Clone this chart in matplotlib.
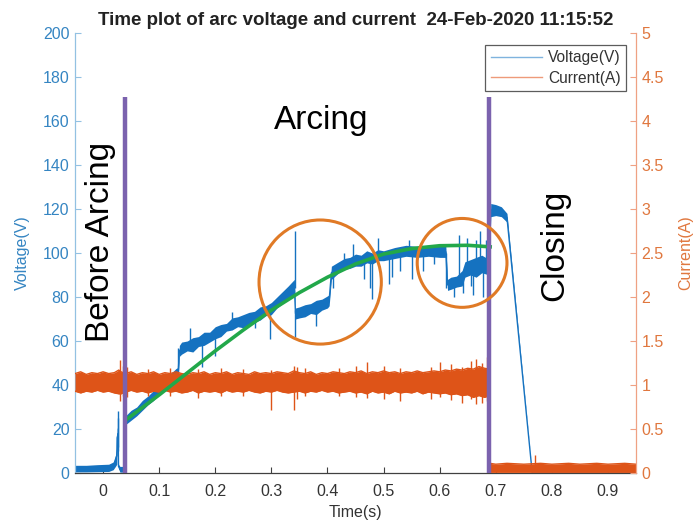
import matplotlib
matplotlib.use("Agg")
import matplotlib.pyplot as plt
from matplotlib.patches import Ellipse
from matplotlib.lines import Line2D

plt.rcParams['font.family'] = ['Liberation Sans', 'DejaVu Sans']

# ---------------- data ----------------
# Voltage noisy band: time, lower and upper envelope (V)
t_v = [-0.05, -0.03, -0.01, 0.01, 0.018, 0.022, 0.0245, 0.025, 0.027, 0.0275, 0.03, 0.038, 0.0395,
       0.04, 0.05, 0.06, 0.07, 0.08, 0.09, 0.10, 0.11, 0.12, 0.13, 0.134, 0.136,
       0.14, 0.15, 0.16, 0.17, 0.18, 0.19, 0.20, 0.21, 0.22, 0.23, 0.24, 0.25, 0.26,
       0.27, 0.28, 0.29, 0.30, 0.31, 0.32, 0.33, 0.341, 0.343, 0.35, 0.36, 0.37, 0.38,
       0.39, 0.40, 0.403, 0.407, 0.42, 0.43, 0.44, 0.45, 0.46, 0.47, 0.48, 0.49, 0.50,
       0.52, 0.54, 0.56, 0.58, 0.60, 0.611, 0.614, 0.62, 0.63, 0.64, 0.645,
       0.655, 0.665, 0.675, 0.6885, 0.691, 0.70, 0.71, 0.72, 0.765, 0.95]
v_lo = [0.5, 0.5, 0.6, 0.7, 1.5, 3.0, 4.0, 12.0, 14.0, 2.0, 0.4, 0.4, 0.4,
        22.0, 24.0, 26.0, 28.5, 31.0, 33.0, 36.0, 38.0, 40.5, 43.0, 44.0, 53.0,
        54.0, 55.5, 55.0, 57.5, 58.0, 59.5, 61.0, 62.0, 64.5, 65.0, 66.5, 66.0, 67.5,
        68.5, 69.5, 71.5, 72.0, 75.0, 77.0, 79.5, 81.0, 70.0, 70.5, 71.0, 72.5, 72.0,
        74.0, 75.0, 76.0, 88.0, 91.0, 92.5, 93.0, 94.0, 94.0, 95.5, 95.0, 96.5, 96.5,
        97.5, 98.5, 98.0, 98.5, 98.0, 98.0, 83.0, 83.5, 84.5, 85.0, 89.0,
        90.0, 89.0, 91.0, 90.0, 116.5, 117.0, 116.5, 114.0, 0.0, 0.0]
v_hi = [3.5, 3.5, 3.8, 4.0, 5.0, 8.0, 12.0, 20.0, 22.0, 4.0, 3.0, 3.0, 3.0,
        26.0, 28.5, 30.0, 33.0, 35.0, 37.5, 40.0, 42.5, 45.0, 47.5, 48.0, 58.0,
        59.5, 60.0, 61.5, 62.0, 64.0, 64.0, 66.5, 67.5, 68.0, 70.5, 71.0, 72.0, 73.0,
        73.5, 75.5, 76.0, 77.5, 80.0, 82.5, 85.0, 88.0, 75.0, 75.5, 76.5, 77.0, 78.5,
        79.0, 80.5, 81.0, 94.0, 96.0, 97.5, 98.0, 99.5, 99.0, 101.0, 100.0, 101.5, 101.0,
        102.5, 103.5, 103.0, 103.5, 103.0, 103.0, 88.0, 89.0, 89.5, 92.0, 96.0,
        97.0, 98.0, 99.0, 97.0, 122.5, 122.0, 121.0, 118.0, 0.0, 0.0]
# Voltage spikes: time, start and end value (V)
spike_t = [0.026, 0.0265, 0.134, 0.155, 0.176, 0.20, 0.23, 0.27, 0.298, 0.3415, 0.342, 0.38,
           0.41, 0.43, 0.445, 0.465, 0.475, 0.48, 0.49, 0.51, 0.515, 0.53, 0.545, 0.55, 0.57,
           0.59, 0.612, 0.625, 0.635, 0.642, 0.648, 0.655, 0.66, 0.665, 0.672, 0.678, 0.683,
           0.686]
spike_a = [10, 12, 46, 59, 61, 63, 68, 72, 74, 84, 74, 75,
           92, 95, 96, 98, 98, 99, 100, 100, 101, 101, 101, 101, 101,
           101, 100, 87, 87, 90, 92, 94, 95, 95, 95, 95, 95,
           94]
spike_b = [28, 25, 57, 66, 48, 53, 73, 66, 61, 110, 62, 67,
           84, 100, 104, 88, 84, 79, 107, 86, 89, 92, 106, 88, 92,
           95, 84, 80, 108, 82, 107, 85, 81, 106, 110, 80, 106,
           85]

# Current noisy band: time, lower and upper envelope (A)
t_i = [-0.05, -0.04, -0.03, -0.02, -0.01, 0.0, 0.01, 0.02, 0.028, 0.032, 0.04, 0.05, 0.06,
       0.07, 0.08, 0.09, 0.10, 0.11, 0.12, 0.13, 0.14, 0.15, 0.16, 0.17, 0.18, 0.19,
       0.20, 0.21, 0.22, 0.23, 0.24, 0.25, 0.26, 0.27, 0.28, 0.29, 0.30, 0.31, 0.32,
       0.33, 0.34, 0.35, 0.36, 0.37, 0.38, 0.39, 0.40, 0.41, 0.42, 0.43, 0.44, 0.45,
       0.46, 0.47, 0.48, 0.49, 0.50, 0.51, 0.52, 0.53, 0.54, 0.55, 0.56, 0.57, 0.58,
       0.59, 0.60, 0.61, 0.62, 0.63, 0.64, 0.65, 0.66, 0.67, 0.68, 0.689,
       0.6895, 0.70, 0.72, 0.75, 0.78, 0.80, 0.83, 0.85, 0.88, 0.90, 0.93, 0.95]
i_lo = [0.93, 0.91, 0.93, 0.92, 0.94, 0.92, 0.93, 0.91, 0.90, 0.90, 0.92, 0.94, 0.92,
        0.93, 0.91, 0.93, 0.92, 0.94, 0.92, 0.93, 0.91, 0.92, 0.94, 0.91, 0.93, 0.92,
        0.93, 0.91, 0.94, 0.92, 0.93, 0.92, 0.94, 0.92, 0.91, 0.93, 0.92, 0.94, 0.92,
        0.91, 0.92, 0.93, 0.91, 0.93, 0.92, 0.94, 0.92, 0.93, 0.91, 0.92, 0.93, 0.91,
        0.92, 0.90, 0.93, 0.91, 0.92, 0.90, 0.93, 0.91, 0.92, 0.91, 0.93, 0.90, 0.92,
        0.91, 0.90, 0.91, 0.89, 0.90, 0.88, 0.89, 0.86, 0.88, 0.86, 0.88,
        0.01, 0.01, 0.01, 0.01, 0.01, 0.01, 0.01, 0.01, 0.01, 0.01, 0.01, 0.01]
i_hi = [1.13, 1.15, 1.12, 1.14, 1.13, 1.15, 1.13, 1.14, 1.17, 1.15, 1.13, 1.15, 1.12,
        1.14, 1.13, 1.15, 1.12, 1.14, 1.13, 1.15, 1.13, 1.12, 1.14, 1.13, 1.15, 1.12,
        1.14, 1.13, 1.15, 1.12, 1.14, 1.13, 1.12, 1.15, 1.13, 1.14, 1.13, 1.15, 1.14,
        1.13, 1.16, 1.14, 1.13, 1.15, 1.12, 1.14, 1.13, 1.15, 1.14, 1.13, 1.15, 1.14,
        1.16, 1.13, 1.15, 1.14, 1.16, 1.14, 1.15, 1.13, 1.15, 1.14, 1.16, 1.14, 1.15,
        1.16, 1.15, 1.17, 1.16, 1.18, 1.17, 1.19, 1.18, 1.21, 1.19, 1.18,
        0.11, 0.10, 0.11, 0.10, 0.11, 0.10, 0.11, 0.10, 0.11, 0.10, 0.11, 0.10]
# Current spikes: time, low and high value (A)
ispike_t = [0.03, 0.035, 0.043, 0.08, 0.12, 0.17, 0.21, 0.25, 0.30, 0.34, 0.345, 0.36,
            0.42, 0.45, 0.47, 0.50, 0.53, 0.585, 0.60, 0.62, 0.64, 0.655, 0.665, 0.675,
            0.684, 0.77]
ispike_lo = [0.82, 0.88, 0.86, 0.88, 0.87, 0.85, 0.88, 0.88, 0.72, 0.72, 0.84, 0.87,
             0.87, 0.86, 0.85, 0.84, 0.82, 0.84, 0.86, 0.83, 0.80, 0.84, 0.78, 0.80,
             0.82, 0.05]
ispike_hi = [1.28, 1.22, 1.20, 1.18, 1.19, 1.18, 1.19, 1.18, 1.17, 1.22, 1.20, 1.19,
             1.19, 1.22, 1.26, 1.22, 1.19, 1.20, 1.26, 1.24, 1.21, 1.27, 1.30, 1.25,
             1.32, 0.21]

# Polynomial fit (green) over the arcing interval
fit_t = [0.04, 0.10, 0.15, 0.20, 0.25, 0.30, 0.35, 0.40, 0.45, 0.50, 0.55, 0.60, 0.65, 0.69]
fit_v = [24.0, 35.5, 45.5, 55.5, 65.0, 74.0, 82.0, 89.0, 95.0, 99.5, 102.0, 103.3, 103.5, 102.8]

# Annotations
phase_lines_t = [0.039, 0.688]
phase_line_top = 171
circle_centers = [(0.387, 86.8), (0.640, 95.5)]
circle_radii = [(0.109, 28.2), (0.080, 20.2)]

xticks = [0, 0.1, 0.2, 0.3, 0.4, 0.5, 0.6, 0.7, 0.8, 0.9]
xticklabels = ['0', '0.1', '0.2', '0.3', '0.4', '0.5', '0.6', '0.7', '0.8', '0.9']
vticks = [0, 20, 40, 60, 80, 100, 120, 140, 160, 180, 200]
iticks = [0, 0.5, 1, 1.5, 2, 2.5, 3, 3.5, 4, 4.5, 5]
iticklabels = ['0', '0.5', '1', '1.5', '2', '2.5', '3', '3.5', '4', '4.5', '5']

# ---------------- styling ----------------
c_volt = '#1572C0'
c_curr = '#DE5418'
c_vtext = '#3585C2'
c_itext = '#E0773E'
c_vspine = '#93C1E2'
c_ispine = '#EFA183'
c_fit = '#22A84A'
c_purple = '#7B62AE'
c_circle = '#E07A26'

fig = plt.figure(figsize=(6.96, 5.31), dpi=100)
ax = fig.add_axes([0.1078, 0.1092, 0.806, 0.8287])
ax2 = ax.twinx()

# voltage
ax.fill_between(t_v, v_lo, v_hi, color=c_volt, lw=0, zorder=2)
ax.plot(t_v, [(a + b) / 2 for a, b in zip(v_lo, v_hi)], color=c_volt, lw=1.0, zorder=2)
ax.vlines(spike_t, spike_a, spike_b, color=c_volt, lw=1.0, zorder=2)

# current
ax2.fill_between(t_i, i_lo, i_hi, color=c_curr, lw=0, zorder=2)
ax2.plot(t_i, i_hi, color=c_curr, lw=1.0, zorder=2)
ax2.plot(t_i, i_lo, color=c_curr, lw=1.0, zorder=2)
ax2.vlines(ispike_t, ispike_lo, ispike_hi, color=c_curr, lw=1.0, zorder=2)

# overlays (drawn on top, in voltage coordinates)
ax2.plot(fit_t, fit_v, color=c_fit, lw=2.6, transform=ax.transData, zorder=5)
for tp in phase_lines_t:
    ax2.plot([tp, tp], [0, phase_line_top], color=c_purple, lw=3.2,
             transform=ax.transData, zorder=6, solid_capstyle='butt')
for (cx, cy), (rx, ry) in zip(circle_centers, circle_radii):
    ax2.add_patch(Ellipse((cx, cy), 2 * rx, 2 * ry, transform=ax.transData,
                          fill=False, edgecolor=c_circle, lw=2.2, zorder=6))

ax2.text(-0.004, 105, 'Before Arcing', transform=ax.transData, rotation=90,
         ha='center', va='center', fontsize=24, color='black', zorder=7)
ax2.text(0.388, 160, 'Arcing', transform=ax.transData,
         ha='center', va='center', fontsize=24, color='black', zorder=7)
ax2.text(0.805, 103.5, 'Closing', transform=ax.transData, rotation=90,
         ha='center', va='center', fontsize=24, color='black', zorder=7)

# axes limits / ticks
ax.set_xlim(-0.05, 0.95)
ax.set_ylim(0, 200)
ax2.set_ylim(0, 5)
ax.set_xticks(xticks)
ax.set_xticklabels(xticklabels)
ax.set_yticks(vticks)
ax2.set_yticks(iticks)
ax2.set_yticklabels(iticklabels)

for s in ['top', 'right']:
    ax.spines[s].set_visible(False)
for s in ['top', 'left', 'bottom']:
    ax2.spines[s].set_visible(False)
ax.spines['left'].set_color(c_vspine)
ax.spines['bottom'].set_color('#404040')
ax2.spines['right'].set_color(c_ispine)
for sp in [ax.spines['left'], ax.spines['bottom'], ax2.spines['right']]:
    sp.set_linewidth(0.9)

ax.tick_params(axis='x', direction='in', length=4, color='#404040', labelcolor='#333333',
               labelsize=11.5, pad=8)
ax.tick_params(axis='y', direction='in', length=4, color=c_vspine, labelcolor=c_vtext,
               labelsize=11.5, pad=4)
ax2.tick_params(axis='y', direction='in', length=4, color=c_ispine, labelcolor=c_itext,
                labelsize=11.5, pad=4)

ax.set_xlabel('Time(s)', fontsize=11.5, color='#333333', labelpad=4)
ax.set_ylabel('Voltage(V)', fontsize=11.5, color=c_vtext, labelpad=9)
ax2.set_ylabel('Current(A)', fontsize=11.5, color=c_itext, labelpad=10, rotation=90)

ax.set_title('Time plot of arc voltage and current  24-Feb-2020 11:15:52',
             fontsize=13.5, fontweight='bold', color='#222222', pad=6)

# legend
handles = [Line2D([], [], color='#7FB3DE', lw=1.0), Line2D([], [], color='#EE9A7A', lw=1.0)]
leg = ax2.legend(handles, ['Voltage(V)', 'Current(A)'], loc='upper right',
                 bbox_to_anchor=(0.983, 0.973), fontsize=11.2, frameon=True, fancybox=False,
                 handlelength=3.3, handletextpad=0.4, borderpad=0.35, labelspacing=0.35,
                 borderaxespad=0)
leg.get_frame().set_edgecolor('#333333')
leg.get_frame().set_linewidth(0.9)
for txt in leg.get_texts():
    txt.set_color('#333333')
leg.set_zorder(10)

fig.savefig('out.png', dpi=100)
